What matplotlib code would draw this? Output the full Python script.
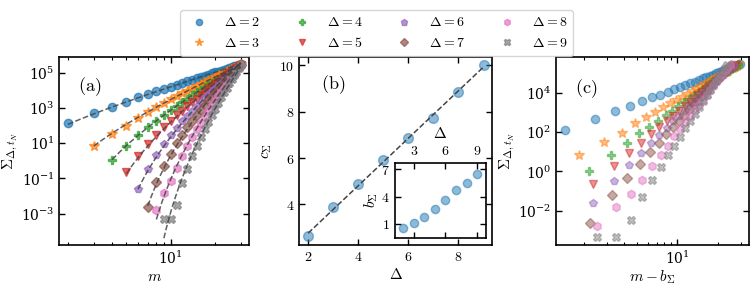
import numpy as np
import matplotlib
matplotlib.use('Agg')
import matplotlib.pyplot as plt
from matplotlib.ticker import NullLocator, NullFormatter, FuncFormatter, LogFormatterSciNotation

plt.rcParams['mathtext.fontset'] = 'cm'
plt.rcParams['font.family'] = 'serif'
plt.rcParams['font.serif'] = ['DejaVu Serif']
plt.rcParams['font.size'] = 10

# data
deltas = [2, 3, 4, 5, 6, 7, 8, 9]
c_sigma = [2.62, 3.88, 4.9, 5.9, 6.85, 7.74, 8.86, 10.0]
b_sigma = [0.55, 1.15, 1.8, 2.65, 3.65, 4.75, 5.5, 6.5]
m_max = 30

# log10 of Sigma, for m = Delta ... 30
log_sigma_2 = [2.13, 2.70, 3.07, 3.36, 3.61, 3.78, 3.93, 4.07, 4.20, 4.31, 4.41, 4.51, 4.59, 4.67, 4.75,
               4.82, 4.88, 4.95, 5.01, 5.06, 5.11, 5.16, 5.21, 5.26, 5.30, 5.35, 5.39, 5.43, 5.47]
log_sigma_3 = [0.86, 1.51, 1.98, 2.45, 2.78, 3.05, 3.27, 3.48, 3.66, 3.82, 3.97, 4.11, 4.23, 4.35,
               4.46, 4.56, 4.66, 4.75, 4.84, 4.92, 5.00, 5.08, 5.15, 5.22, 5.28, 5.35, 5.41, 5.47]
log_sigma_4 = [0.03, 0.86, 1.47, 1.94, 2.28, 2.59, 2.87, 3.11, 3.33, 3.53, 3.71, 3.88, 4.03, 4.17,
               4.31, 4.43, 4.55, 4.66, 4.77, 4.87, 4.97, 5.06, 5.15, 5.23, 5.32, 5.39, 5.47]
log_sigma_5 = [-0.64, 0.29, 0.96, 1.47, 1.90, 2.26, 2.58, 2.85, 3.10, 3.33, 3.53, 3.72, 3.89, 4.06,
               4.21, 4.35, 4.49, 4.62, 4.74, 4.85, 4.96, 5.07, 5.17, 5.27, 5.36, 5.45]
log_sigma_6 = [-1.62, -0.47, 0.33, 0.95, 1.45, 1.87, 2.24, 2.56, 2.85, 3.11, 3.35, 3.56, 3.77, 3.95,
               4.13, 4.29, 4.45, 4.60, 4.74, 4.87, 5.00, 5.12, 5.23, 5.34, 5.45]
log_sigma_7 = [-2.62, -1.18, -0.32, 0.40, 0.98, 1.47, 1.89, 2.26, 2.59, 2.89, 3.17, 3.42, 3.65, 3.86,
               4.06, 4.25, 4.43, 4.60, 4.76, 4.91, 5.05, 5.19, 5.32, 5.45]
log_sigma_8 = [-2.80, -1.83, -1.16, -0.42, 0.28, 0.83, 1.32, 1.80, 2.15, 2.50, 2.83, 3.13, 3.40, 3.66,
               3.91, 4.14, 4.36, 4.56, 4.76, 4.94, 5.12, 5.29, 5.45]
log_sigma_9 = [-3.33, -3.33, -2.50, -1.29, -0.45, 0.25, 0.85, 1.32, 1.78, 2.20, 2.59, 2.95, 3.28, 3.59,
               3.88, 4.15, 4.40, 4.63, 4.85, 5.06, 5.26, 5.45]

log_sigma = [log_sigma_2, log_sigma_3, log_sigma_4, log_sigma_5,
             log_sigma_6, log_sigma_7, log_sigma_8, log_sigma_9]

markers = ['o', '*', 'P', 'v', 'p', 'D', 'h', 'X']
colors = ['C0', 'C1', 'C2', 'C3', 'C4', 'C5', 'C6', 'C7']
msizes = [6, 7.5, 6, 6, 6, 5.5, 6, 6]


def style(ax):
    ax.tick_params(which='both', direction='in', top=True, right=True, labelsize=10)
    ax.tick_params(which='major', length=4.5, width=1)
    ax.tick_params(which='minor', length=2.5, width=0.8)
    for s in ax.spines.values():
        s.set_linewidth(1.2)


def log_x(ax):
    ax.set_xscale('log')
    ax.set_yscale('log')
    ax.xaxis.set_minor_formatter(NullFormatter())
    ax.yaxis.set_minor_locator(NullLocator())
    ax.yaxis.set_major_formatter(LogFormatterSciNotation())


lin_fmt = FuncFormatter(lambda v, p: f'${v:g}$')

fig = plt.figure(figsize=(7.53, 2.87), dpi=100)
ax_a = fig.add_axes([0.0788, 0.1463, 0.2523, 0.656])
ax_b = fig.add_axes([0.3975, 0.1463, 0.2563, 0.656])
ax_c = fig.add_axes([0.7384, 0.1463, 0.2563, 0.656])

# (a) Sigma vs m with power-law fits
handles = []
for i, d in enumerate(deltas):
    m = np.arange(d, m_max + 1)
    logs = np.array(log_sigma[i])
    h, = ax_a.plot(m, 10 ** logs, ls='none', marker=markers[i], ms=msizes[i],
                   color=colors[i], alpha=0.7, label=rf'$\Delta = {d}$')
    handles.append(h)
    log_a = np.mean(logs - c_sigma[i] * np.log10(m - b_sigma[i]))
    m_fit = np.linspace(d, m_max, 200)
    ax_a.plot(m_fit, 10 ** (log_a + c_sigma[i] * np.log10(m_fit - b_sigma[i])),
              ls='--', color='#444444', lw=1.1, alpha=0.85, zorder=5)

log_x(ax_a)
ax_a.set_xlim(1.75, 34.3)
ax_a.set_ylim(10 ** -4.78, 10 ** 5.9)
ax_a.set_yticks([1e-3, 1e-1, 1e1, 1e3, 1e5])
ax_a.set_xlabel(r'$m$', fontsize=11, labelpad=2)
ax_a.set_ylabel(r'$\Sigma_{\Delta,t_N}$', fontsize=11, labelpad=1)
ax_a.text(0.10, 0.84, r'$\mathrm{(a)}$', transform=ax_a.transAxes, fontsize=13, va='center')
style(ax_a)

# (b) exponent c vs Delta
ax_b.plot(deltas, c_sigma, ls='none', marker='o', ms=7, color='C0', alpha=0.5)
slope, icpt = np.polyfit(deltas, c_sigma, 1)
d_fit = np.linspace(deltas[0], deltas[-1], 50)
ax_b.plot(d_fit, slope * d_fit + icpt, ls='--', color='#444444', lw=1.1)
ax_b.set_xticks([2, 4, 6, 8])
ax_b.set_yticks([4, 6, 8, 10])
ax_b.xaxis.set_major_formatter(lin_fmt)
ax_b.yaxis.set_major_formatter(lin_fmt)
ax_b.set_xlabel(r'$\Delta$', fontsize=11, labelpad=2)
ax_b.set_ylabel(r'$c_\Sigma$', fontsize=11)
ax_b.text(0.11, 0.85, r'$\mathrm{(b)}$', transform=ax_b.transAxes, fontsize=13, va='center')
style(ax_b)

ins = ax_b.inset_axes([0.494, 0.039, 0.472, 0.398])
ins.plot(deltas, b_sigma, ls='none', marker='o', ms=6, color='C0', alpha=0.5)
ins.set_xlim(1.2, 9.8)
ins.set_ylim(-0.5, 7.7)
ins.set_xticks([3, 6, 9])
ins.set_yticks([1, 4, 7])
ins.xaxis.set_major_formatter(lin_fmt)
ins.yaxis.set_major_formatter(lin_fmt)
style(ins)
ins.tick_params(labeltop=True, labelbottom=False)
ins.xaxis.set_label_position('top')
ins.set_xlabel(r'$\Delta$', fontsize=11)
ins.set_ylabel(r'$b_\Sigma$', fontsize=11, labelpad=1)

# (c) collapsed curves vs m - b
for i, d in enumerate(deltas):
    m = np.arange(d, m_max + 1)
    ax_c.plot(m - b_sigma[i], 10 ** np.array(log_sigma[i]), ls='none', marker=markers[i],
              ms=msizes[i], color=colors[i], alpha=0.5)
log_x(ax_c)
ax_c.set_xlim(10 ** 0.096, 10 ** 1.534)
ax_c.set_ylim(10 ** -3.76, 10 ** 5.86)
ax_c.set_yticks([1e-2, 1e0, 1e2, 1e4])
ax_c.set_xlabel(r'$m - b_\Sigma$', fontsize=11, labelpad=1)
ax_c.set_ylabel(r'$\Sigma_{\Delta,t_N}$', fontsize=11, labelpad=1)
ax_c.text(0.10, 0.83, r'$\mathrm{(c)}$', transform=ax_c.transAxes, fontsize=13, va='center')
style(ax_c)

fig.legend(handles=handles, loc='upper center', bbox_to_anchor=(0.5, 0.99), ncol=4,
           fontsize=10, markerscale=0.75)

fig.savefig('out.png', dpi=100)
